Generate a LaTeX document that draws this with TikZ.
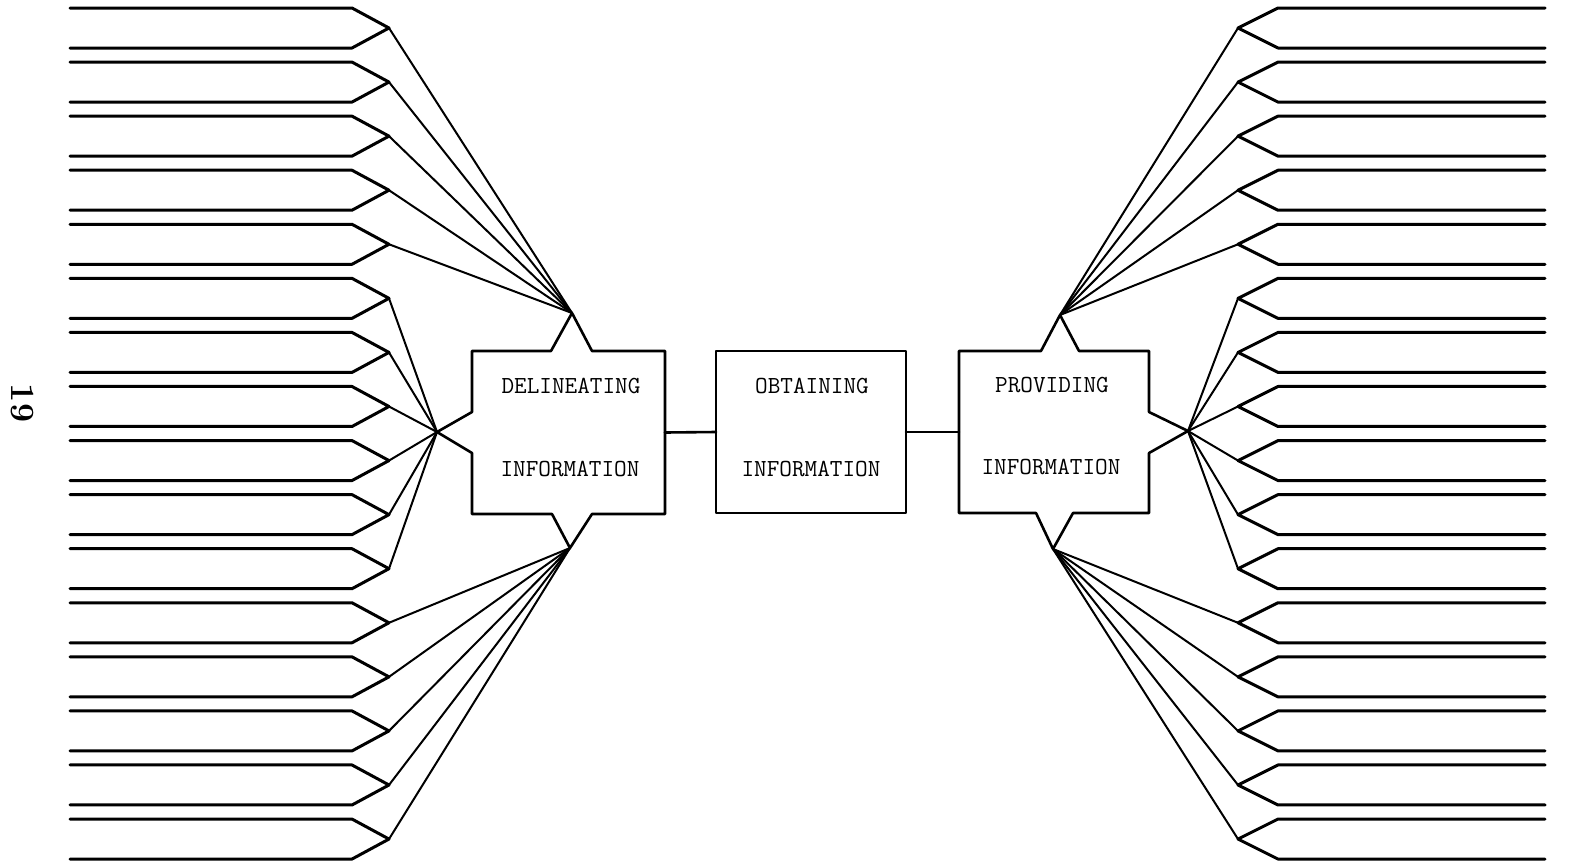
\documentclass[tikz,border=0pt]{standalone}
\begin{document}
\begin{tikzpicture}[x=1pt,y=-1pt,line join=round,line cap=round,
  pencil/.style={line width=3pt},
  fan/.style={line width=2pt},
  boxline/.style={line width=2.6pt},
  lbl/.style={font=\fontsize{24.5}{24.5}\selectfont\ttfamily,inner sep=0pt},
  hold/.style={inner sep=0pt,outer sep=0pt}]
\useasboundingbox (0,0) rectangle (1569,865);

% pencils on both sides
\foreach \k in {0,...,15}{
  \pgfmathsetmacro\yt{8+54.07*\k}
  \pgfmathsetmacro\yb{\yt+40}
  \pgfmathsetmacro\ym{\yt+20}
  \coordinate (L\k) at (389,\ym);
  \coordinate (R\k) at (1238,\ym);
  \draw[pencil] (70,\yt) -- (352,\yt) -- (L\k) -- (352,\yb) -- (70,\yb);
  \draw[pencil] (1545,\yt) -- (1278,\yt) -- (R\k) -- (1278,\yb) -- (1545,\yb);
}

% apex points
\coordinate (DT) at (572,313);
\coordinate (DL) at (437,432);
\coordinate (DB) at (570,548);
\coordinate (PT) at (1060,315);
\coordinate (PR) at (1188,431);
\coordinate (PB) at (1053,549);

% Delineating box
\draw[boxline] (472,351) -- (551,351) -- (DT) -- (592,351) -- (665,351)
  -- (665,514) -- (592,514) -- (DB) -- (552,514) -- (472,514)
  -- (472,453) -- (DL) -- (472,412) -- cycle;
\node[hold,minimum width=193pt,minimum height=163pt] (del) at (568.5,432.5) {};
\node[lbl] (delA) at (571,386) {DELINEATING};
\node[lbl] (delB) at (570,469) {INFORMATION};

% Obtaining box
\node[draw,boxline,hold,minimum width=190pt,minimum height=162pt] (obt) at (811,432) {};
\node[lbl] (obtA) at (812,386) {OBTAINING};
\node[lbl] (obtB) at (811,469) {INFORMATION};

% Providing box
\draw[boxline] (959,351) -- (1041,351) -- (PT) -- (1079,351) -- (1149,351)
  -- (1149,412) -- (PR) -- (1149,453) -- (1149,513) -- (1073,513) -- (PB)
  -- (1036,513) -- (959,513) -- cycle;
\node[hold,minimum width=190pt,minimum height=162pt] (prov) at (1054,432) {};
\node[lbl] (provA) at (1052,385) {PROVIDING};
\node[lbl] (provB) at (1051,467) {INFORMATION};

% connectors between boxes
\draw[boxline] (del.east) -- (obt.west);
\draw[boxline] (obt.east) -- (prov.west);

% fans
\foreach \k in {0,...,4}{\draw[fan] (L\k) -- (DT); \draw[fan] (R\k) -- (PT);}
\foreach \k in {5,...,10}{\draw[fan] (L\k) -- (DL); \draw[fan] (R\k) -- (PR);}
\foreach \k in {11,...,15}{\draw[fan] (L\k) -- (DB); \draw[fan] (R\k) -- (PB);}

% page number
\node[rotate=-90,font=\fontsize{34}{34}\selectfont\bfseries,inner sep=0pt] (pg) at (22,403) {19};
\end{tikzpicture}
\end{document}
